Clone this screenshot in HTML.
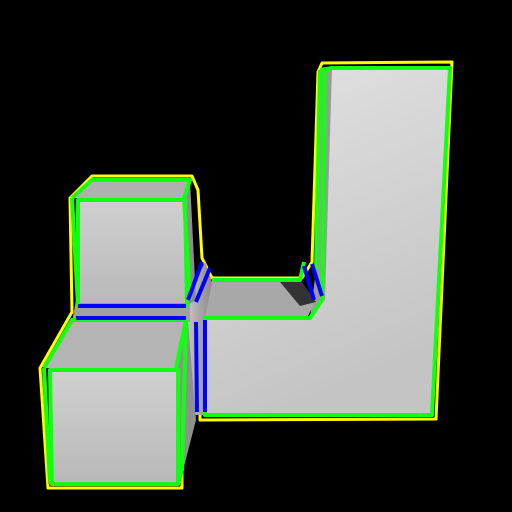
<!DOCTYPE html>
<html><head><meta charset="utf-8"><style>html,body{margin:0;padding:0;background:#000;}svg{display:block}</style></head>
<body>
<svg width="512" height="512" viewBox="0 0 512 512">
<defs>
<linearGradient id="g1" x1="0" y1="0" x2="0.3" y2="1"><stop offset="0" stop-color="#e2e2e2"/><stop offset="1" stop-color="#c4c4c4"/></linearGradient>
<linearGradient id="g2" x1="0" y1="0" x2="0" y2="1"><stop offset="0" stop-color="#d0d0d0"/><stop offset="1" stop-color="#b8b8b8"/></linearGradient>
<linearGradient id="g3" x1="0" y1="0" x2="1" y2="0"><stop offset="0" stop-color="#c8c8c8"/><stop offset="1" stop-color="#888"/></linearGradient>
</defs>
<g fill="none" stroke="#ff0" stroke-width="3" stroke-linejoin="round">
<polygon points="322,63 452,62 436,419 200,420 200,372 182,374 182,488 48,488 40,368 72,312 70,198 92,176 192,176 198,190 202,258 212,278 302,278 312,262 318,72"/>
</g>
<polygon points="332,68 450,68 432,415 205,415 205,318 310,318 322,300 325,70" fill="url(#g1)"/>
<polygon points="320,70 332,68 325,300 310,318 316,270" fill="#9a9a9a"/>
<polygon points="210,282 300,282 316,300 308,316 205,316" fill="#a8a8a8"/>
<polygon points="280,282 302,282 316,302 300,306" fill="#333"/>
<polygon points="186,300 205,262 212,282 205,318 205,415 192,415 186,322" fill="url(#g3)"/>
<polygon points="76,300 190,300 190,322 72,322" fill="#a0a0a0"/>
<polygon points="78,200 185,200 187,305 78,305" fill="url(#g2)"/>
<polygon points="72,198 92,180 190,180 184,198" fill="#b0b0b0"/>
<polygon points="184,198 190,180 196,300 187,305" fill="#8c8c8c"/>
<polygon points="44,368 72,320 186,320 176,368" fill="#b4b4b4"/>
<polygon points="50,370 178,370 178,484 52,484" fill="url(#g2)"/>
<polygon points="176,368 188,322 196,420 180,482" fill="#909090"/>
<g fill="none" stroke="#1f1" stroke-width="4" stroke-linejoin="round">
<polygon points="332,68 450,68 432,415 205,415 205,318 310,318 322,300 325,70"/>
<polyline points="320,70 332,68"/>
<polyline points="320,70 316,270"/>
<polyline points="212,280 300,280 304,262"/>
<polygon points="78,200 185,200 187,305 78,305"/>
<polyline points="72,198 92,180 190,180 184,198 190,300"/>
<polyline points="72,198 78,305"/>
<polygon points="50,370 178,370 178,484 52,484"/>
<polyline points="44,368 72,320 186,320 176,368"/>
<polyline points="44,368 50,484"/>
<polyline points="186,320 182,470 178,484"/>
</g>
<g fill="none" stroke="#00f" stroke-width="4">
<line x1="78" y1="306" x2="186" y2="306"/><line x1="76" y1="318" x2="186" y2="318"/>
<line x1="196" y1="322" x2="197" y2="412"/><line x1="205" y1="320" x2="205" y2="412"/>
<line x1="188" y1="300" x2="202" y2="262"/><line x1="196" y1="302" x2="210" y2="268"/>
<line x1="304" y1="266" x2="314" y2="300"/><line x1="312" y1="264" x2="322" y2="296"/>
</g>
</svg>
</body></html>
